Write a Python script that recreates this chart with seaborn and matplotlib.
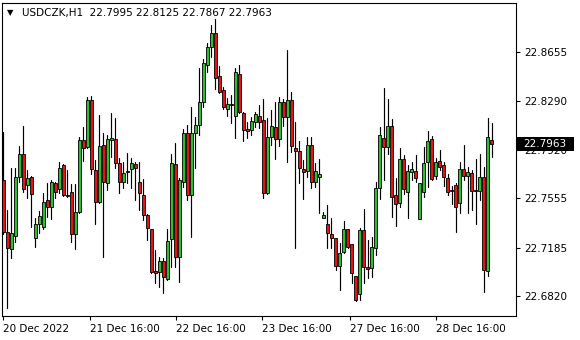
import numpy as np
import pandas as pd
import matplotlib
matplotlib.use("Agg")
import matplotlib.pyplot as plt
import matplotlib.transforms as mtransforms
from matplotlib.patches import Rectangle
import seaborn as sns

symbol = "USDCZK,H1"

opens = [22.7694, 22.7300, 22.7172, 22.7274, 22.7718, 22.7889, 22.7654, 22.7714, 22.7255, 22.7360,
         22.7337, 22.7543, 22.7488, 22.7669, 22.7624, 22.7807, 22.7581, 22.7601, 22.7285, 22.7450,
         22.7995, 22.7940, 22.8296, 22.7769, 22.7530, 22.7957, 22.7673, 22.7995, 22.8000, 22.7824,
         22.7676, 22.7761, 22.7774, 22.7814, 22.7676, 22.7581, 22.7430, 22.7325, 22.7008, 22.7003,
         22.7084, 22.6946, 22.7247, 22.7812, 22.7112, 22.7681, 22.8045, 22.7581, 22.8045, 22.8108,
         22.8283, 22.8560, 22.8693, 22.8798, 22.8477, 22.8371, 22.8226, 22.8264, 22.8176, 22.8492,
         22.8196, 22.8078, 22.8070, 22.8133, 22.8176, 22.8145, 22.7594, 22.8015, 22.8095, 22.8005,
         22.8279, 22.8166, 22.8296, 22.7932, 22.7914, 22.7776, 22.7764, 22.7957, 22.7675, 22.7714,
         22.7405, 22.7361, 22.7285, 22.7257, 22.7048, 22.7148, 22.7323, 22.7209, 22.6971, 22.6833,
         22.7317, 22.7037, 22.7029, 22.7179, 22.7631, 22.8008, 22.7944, 22.8100, 22.7581, 22.7518,
         22.7852, 22.7605, 22.7752, 22.7761, 22.7398, 22.7605, 22.7831, 22.8000, 22.7726, 22.7837,
         22.7807, 22.7706, 22.7618, 22.7656, 22.7523, 22.7776, 22.7726, 22.7744, 22.7618, 22.7613,
         22.7714, 22.7011, 22.7995]
highs = [22.8057, 22.7468, 22.7782, 22.7782, 22.7950, 22.8100, 22.7769, 22.7724, 22.7405, 22.7462,
         22.7598, 22.7673, 22.7694, 22.7681, 22.7831, 22.7814, 22.7769, 22.7664, 22.7664, 22.8020,
         22.8095, 22.8321, 22.8326, 22.7844, 22.8183, 22.8045, 22.8032, 22.8200, 22.8158, 22.7859,
         22.7831, 22.7895, 22.7857, 22.7831, 22.7831, 22.7699, 22.7438, 22.7328, 22.7167, 22.7116,
         22.7104, 22.7322, 22.7889, 22.7970, 22.7706, 22.8075, 22.8108, 22.8246, 22.8170, 22.8535,
         22.8603, 22.8723, 22.8861, 22.8904, 22.8552, 22.8396, 22.8309, 22.8334, 22.8535, 22.8560,
         22.8202, 22.8133, 22.8166, 22.8208, 22.8258, 22.8301, 22.8158, 22.8221, 22.8283, 22.8316,
         22.8301, 22.8669, 22.8356, 22.8133, 22.7987, 22.7844, 22.8017, 22.8015, 22.7822, 22.7850,
         22.7455, 22.7505, 22.7408, 22.7259, 22.7223, 22.7383, 22.7325, 22.7212, 22.6973, 22.7332,
         22.7478, 22.7244, 22.7264, 22.7681, 22.8095, 22.8384, 22.8301, 22.8151, 22.7706, 22.7932,
         22.7882, 22.7807, 22.7831, 22.7882, 22.7669, 22.7944, 22.8065, 22.8025, 22.7857, 22.7920,
         22.7831, 22.7737, 22.7648, 22.7669, 22.7831, 22.7957, 22.7794, 22.7769, 22.7850, 22.7889,
         22.7789, 22.8158, 22.8125]
lows = [22.7287, 22.6727, 22.7108, 22.7224, 22.7681, 22.7605, 22.7556, 22.7337, 22.7191, 22.7297,
        22.7322, 22.7417, 22.7400, 22.7556, 22.7594, 22.7573, 22.7563, 22.7229, 22.7172, 22.7443,
        22.7839, 22.7932, 22.7737, 22.7360, 22.7524, 22.7112, 22.7618, 22.7869, 22.7782, 22.7598,
        22.7631, 22.7669, 22.7631, 22.7543, 22.7468, 22.7392, 22.7242, 22.6991, 22.6918, 22.6890,
        22.6841, 22.6944, 22.7041, 22.7041, 22.6928, 22.7643, 22.7543, 22.7267, 22.7782, 22.8032,
        22.8246, 22.8509, 22.8622, 22.8379, 22.8347, 22.8226, 22.8176, 22.8121, 22.8012, 22.8200,
        22.7987, 22.8008, 22.8032, 22.8090, 22.8087, 22.7556, 22.7588, 22.7957, 22.7850, 22.7950,
        22.8100, 22.7829, 22.7902, 22.7179, 22.7673, 22.7547, 22.7720, 22.7631, 22.7643, 22.7449,
        22.7404, 22.7185, 22.7183, 22.7020, 22.6868, 22.7142, 22.7179, 22.6918, 22.6786, 22.6790,
        22.6918, 22.6953, 22.6965, 22.7129, 22.7548, 22.7694, 22.7889, 22.7417, 22.7350, 22.7493,
        22.7588, 22.7405, 22.7694, 22.7681, 22.7398, 22.7568, 22.7643, 22.7694, 22.7701, 22.7769,
        22.7648, 22.7581, 22.7513, 22.7304, 22.7447, 22.7694, 22.7443, 22.7468, 22.7362, 22.7543,
        22.6848, 22.6973, 22.7867]
closes = [22.7300, 22.7179, 22.7292, 22.7714, 22.7889, 22.7628, 22.7709, 22.7586, 22.7360, 22.7423,
          22.7526, 22.7493, 22.7681, 22.7605, 22.7782, 22.7578, 22.7575, 22.7285, 22.7450, 22.7995,
          22.7932, 22.8296, 22.7774, 22.7530, 22.7950, 22.7681, 22.8000, 22.8012, 22.7824, 22.7676,
          22.7744, 22.7752, 22.7819, 22.7782, 22.7598, 22.7430, 22.7330, 22.7003, 22.6996, 22.7084,
          22.6965, 22.7234, 22.7819, 22.7112, 22.7694, 22.8045, 22.7581, 22.8045, 22.8108, 22.8279,
          22.8572, 22.8693, 22.8798, 22.8464, 22.8359, 22.8246, 22.8266, 22.8258, 22.8505, 22.8208,
          22.8070, 22.8065, 22.8138, 22.8188, 22.8133, 22.7594, 22.8015, 22.8102, 22.8002, 22.8281,
          22.8166, 22.8296, 22.7952, 22.7914, 22.7782, 22.7756, 22.7957, 22.7675, 22.7758, 22.7739,
          22.7430, 22.7298, 22.7255, 22.7048, 22.7142, 22.7323, 22.7187, 22.6991, 22.6790, 22.7317,
          22.7036, 22.7021, 22.7187, 22.7631, 22.8032, 22.7944, 22.8100, 22.7568, 22.7511, 22.7852,
          22.7624, 22.7761, 22.7776, 22.7711, 22.7669, 22.7819, 22.7987, 22.7701, 22.7831, 22.7794,
          22.7718, 22.7605, 22.7614, 22.7493, 22.7776, 22.7726, 22.7752, 22.7613, 22.7614, 22.7714,
          22.7016, 22.8015, 22.7963]

ytick_values = [22.8655, 22.8290, 22.7920, 22.7555, 22.7185, 22.6820]
xtick_labels = ["20 Dec 2022", "21 Dec 16:00", "22 Dec 16:00", "23 Dec 16:00",
                "27 Dec 16:00", "28 Dec 16:00"]
xtick_bars = [0, 21.7, 43.2, 64.7, 86.5, 108.2]
last_price = 22.7963

df = pd.DataFrame({"open": opens, "high": highs, "low": lows, "close": closes})
df["bar"] = np.arange(len(df), dtype=float)
df["bull"] = df["close"] >= df["open"]
df["body_lo"] = df[["open", "close"]].min(axis=1)
df["body_hi"] = df[["open", "close"]].max(axis=1)

wicks = pd.concat([
    pd.DataFrame({"bar": df["bar"], "price": df["low"]}),
    pd.DataFrame({"bar": df["bar"], "price": df["high"]}),
]).sort_values(["bar", "price"]).reset_index(drop=True)

sns.set_theme(style="white")
plt.rcParams["font.family"] = ["DejaVu Sans"]

fig = plt.figure(figsize=(5.8, 3.4), dpi=100)
ax = fig.add_axes([2 / 580, 24 / 340, 514 / 580, 313 / 340])

sns.lineplot(data=wicks, x="bar", y="price", units="bar", estimator=None,
             color="black", linewidth=0.85, sort=False, legend=False, ax=ax, zorder=2)

bull_col = "#33BB33"
bear_col = "#E01515"
min_h = 0.00015
for is_bull, col in [(True, bull_col), (False, bear_col)]:
    sub = df[df["bull"] == is_bull]
    heights = np.maximum((sub["body_hi"] - sub["body_lo"]).to_numpy(), min_h)
    ax.bar(sub["bar"].to_numpy(), heights, bottom=sub["body_lo"].to_numpy(),
           width=0.62, facecolor=col, edgecolor="black", linewidth=0.6,
           zorder=3, antialiased=True)

ax.set_xlim(-0.33, 128.1)
ax.set_ylim(22.6670, 22.9026)
ax.set_xlabel("")
ax.set_ylabel("")

for s in ax.spines.values():
    s.set_visible(True)
    s.set_color("black")
    s.set_linewidth(0.8)

ax.yaxis.tick_right()
ax.set_yticks(ytick_values)
ax.set_yticklabels([f"{v:.4f}" for v in ytick_values])
ax.set_xticks(xtick_bars)
ax.set_xticklabels(xtick_labels, ha="left")
ax.tick_params(axis="both", which="both", direction="out", length=3, width=0.8,
               colors="black", labelsize=7.5)
ax.tick_params(axis="y", pad=3, right=True, left=False)
ax.tick_params(axis="x", pad=2.5, bottom=True)
ax.grid(False)

# current price marker on the price scale (drawn over the 22.7920 label, as in the terminal)
trans = mtransforms.blended_transform_factory(ax.transAxes, ax.transData)
box_h = 0.0105
ax.add_patch(Rectangle((1.0, last_price - box_h / 2), 58 / 514, box_h,
                       transform=trans, facecolor="black", edgecolor="none",
                       clip_on=False, zorder=10))
ax.text(1.0 + 7 / 514, last_price, f"{last_price:.4f}", transform=trans,
        color="white", fontsize=7.5, va="center", ha="left", zorder=11, clip_on=False)

# header
fig.text(7 / 580, 1 - 12.5 / 340, "▼", fontsize=6, color="black", va="center", ha="left")
fig.text(22 / 580, 1 - 13 / 340,
         f"{symbol}  {opens[-1]:.4f} {highs[-1]:.4f} {lows[-1]:.4f} {closes[-1]:.4f}",
         fontsize=7.5, color="black", va="center", ha="left")

fig.savefig("out.png", dpi=100, facecolor="white")
